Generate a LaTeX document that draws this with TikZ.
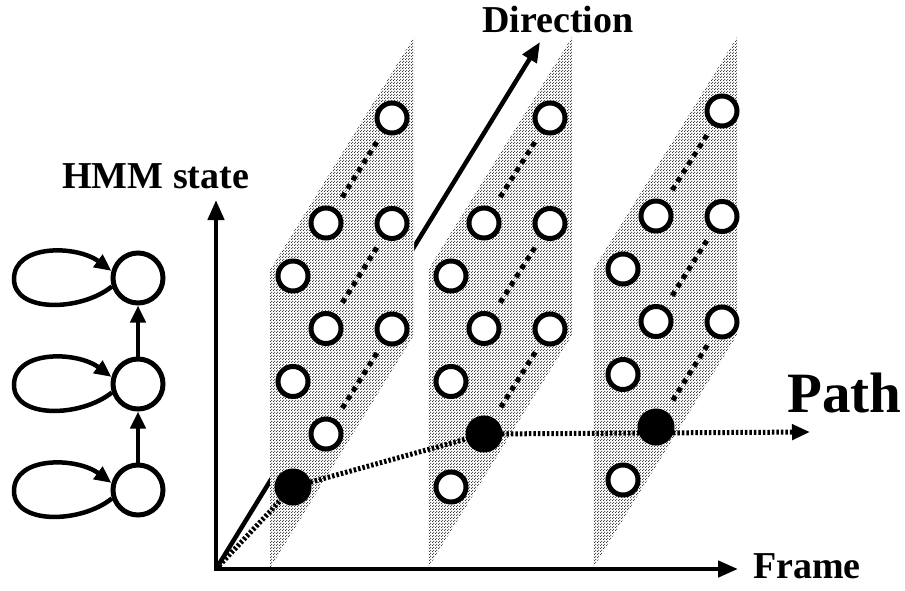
\documentclass[tikz,border=0pt]{standalone}
\usepackage{fontspec}
\setmainfont{Liberation Serif}
\usetikzlibrary{arrows.meta,patterns.meta}
\tikzdeclarepattern{
  name=halftone,
  type=uncolored,
  bottom left={(0pt,0pt)},
  top right={(3pt,3pt)},
  tile size={(3pt,3pt)},
  code={
    \pgfpathcircle{\pgfqpoint{0.75pt}{0.75pt}}{0.75pt}
    \pgfpathcircle{\pgfqpoint{2.25pt}{2.25pt}}{0.75pt}
    \pgfusepath{fill}
  }
}
\pgfdeclarelayer{bg}
\pgfdeclarelayer{mid}
\pgfsetlayers{bg,mid,main}
\begin{document}
\begin{tikzpicture}[x=1pt,y=-1pt,
  bigtip/.style={-{Triangle[length=20pt,width=16pt]}},
  smalltip/.style={-{Triangle[length=17pt,width=15pt]}},
  axis/.style={line width=4.5pt},
  st/.style={circle,draw,line width=5pt,fill=white,minimum size=30pt,inner sep=0pt},
  stf/.style={circle,draw,line width=5pt,fill=black,minimum size=32pt,inner sep=0pt},
  hmm/.style={circle,draw,line width=5pt,fill=white,minimum size=50pt,inner sep=0pt},
  gap/.style={line width=5pt,dash pattern=on 5pt off 5pt,shorten <=13pt,shorten >=10pt},
  pathline/.style={line width=5pt,dash pattern=on 2.5pt off 2pt},
  lbl/.style={font=\bfseries\fontsize{38}{40}\selectfont,inner sep=0pt},
  plane/.style={pattern=halftone,pattern color=black!85}
]
\useasboundingbox (0,0) rectangle (905,590);

% named points
\coordinate (O) at (216,569);
\coordinate (ytip) at (216,200);
\coordinate (xtip) at (738,569);
\coordinate (dtip) at (540,42);
\coordinate (pe) at (810,432);

% state nodes
\foreach \p/\dx/\dy/\fd in {1/0/0/1,2/158/0/2,3/330/-7/2}{
  \foreach \s in {1,2,3}{
    \pgfmathsetmacro{\xa}{293+\dx}
    \pgfmathsetmacro{\ya}{487-105.5*(\s-1)+\dy}
    \def\sa{st}\def\sb{st}
    \ifnum\s=1 \ifnum\fd=1 \def\sa{stf}\else\def\sb{stf}\fi\fi
    \node[\sa] (p\p-\s-1) at (\xa,\ya) {};
    \node[\sb] (p\p-\s-2) at (\xa+33,\ya-53) {};
    \node[st] (p\p-\s-3) at (\xa+99,\ya-158) {};
  }
}

% background: direction axis and planes
\begin{pgfonlayer}{bg}
  \draw[axis,bigtip] (O) -- (dtip);
  \foreach \L in {270,428,593}{
    \fill[white] (\L,568) -- (\L+144,335) -- (\L+144,37) -- (\L,270) -- cycle;
    \fill[plane] (\L,568) -- (\L+144,335) -- (\L+144,37) -- (\L,270) -- cycle;
  }
\end{pgfonlayer}

% middle: axes, dotted lines, path
\begin{pgfonlayer}{mid}
  \draw[axis,line join=miter,{Triangle[length=20pt,width=16pt]}-{Triangle[length=20pt,width=16pt]}] (ytip) -- (O) -- (xtip);
  \foreach \p in {1,2,3}{
    \foreach \s in {1,2,3}{
      \draw[gap] (p\p-\s-2) -- (p\p-\s-3);
    }
  }
  \draw[pathline,-{Triangle[length=18pt,width=15pt]}] (O) -- (p1-1-1.center) -- (p2-1-2.center) -- (pe);
\end{pgfonlayer}

% left HMM
\node[hmm] (q3) at (138,278) {};
\node[hmm] (q2) at (138,384) {};
\node[hmm] (q1) at (138,490) {};
\draw[axis,smalltip] (q1) -- (q2);
\draw[axis,smalltip] (q2) -- (q3);
\foreach \i in {1,2,3}{
  \path (q\i) ++(-124,1) coordinate (l\i);
  \draw[axis,smalltip] (q\i.198) .. controls +(-31,25) and +(0,34) .. (l\i)
     .. controls +(0,-35) and +(-35,-26) .. (q\i.165);
}

% labels
\node[lbl,anchor=base west] (hmmlbl) at (62,188) {HMM state};
\node[lbl,anchor=base west] (dirlbl) at (482,32) {Direction};
\node[lbl,anchor=base west] (framelbl) at (753,578) {Frame};
\node[lbl,font=\bfseries\fontsize{57}{60}\selectfont,anchor=base west] (pathlbl) at (787,412) {Path};
\end{tikzpicture}
\end{document}
